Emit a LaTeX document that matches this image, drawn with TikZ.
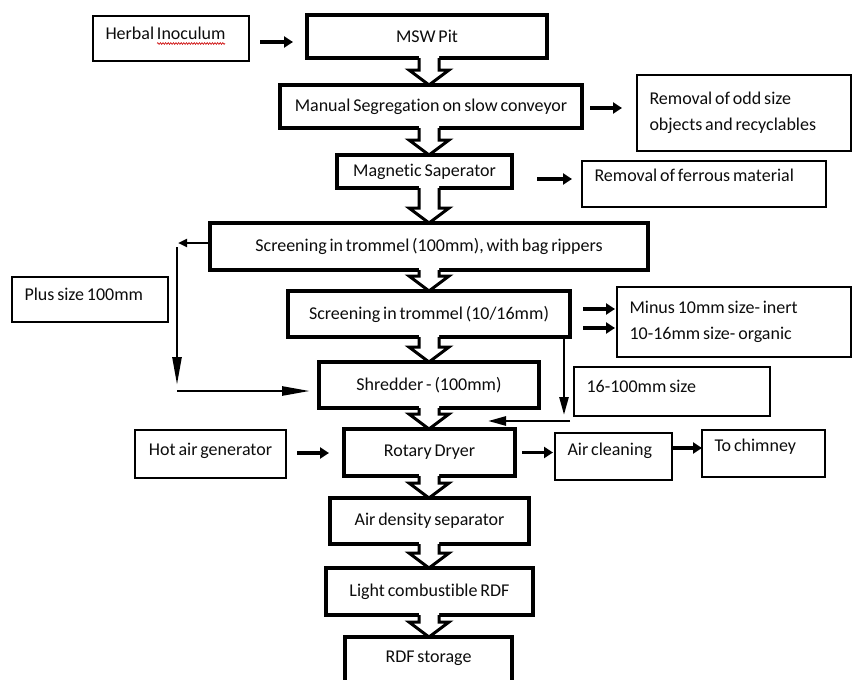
\documentclass[tikz,border=0pt]{standalone}
\usepackage{fontspec}
\setmainfont{Carlito}[Ligatures=NoCommon, WordSpace=0.7]
\usetikzlibrary{arrows.meta,decorations.pathmorphing}
\newcommand{\blockarr}[2]{%
  \path (#1.south -| ax) coordinate (bt) (#2.north -| ax) coordinate (bb);
  \fill[white] ([xshift=-10pt,yshift=2pt]bt) -- ([xshift=-10pt,yshift=15pt]bb) -- ([xshift=-20pt,yshift=15pt]bb) -- (bb) -- ([xshift=20pt,yshift=15pt]bb) -- ([xshift=10pt,yshift=15pt]bb) -- ([xshift=10pt,yshift=2pt]bt) -- cycle;
  \draw[barrow] ([xshift=-10pt]bt) -- ([xshift=-10pt,yshift=15pt]bb) -- ([xshift=-20pt,yshift=15pt]bb) -- (bb) -- ([xshift=20pt,yshift=15pt]bb) -- ([xshift=10pt,yshift=15pt]bb) -- ([xshift=10pt]bt);
}
\begin{document}
\begin{tikzpicture}[x=1pt,y=-1pt,
  txt/.style={text=black!95, font=\fontsize{18}{26}\selectfont},
  mainbox/.style={txt, draw=black, line width=3.5pt, fill=white, outer sep=0pt, inner sep=0pt, align=center},
  sidebox/.style={txt, draw=black, line width=1.2pt, outer sep=0pt, inner xsep=12.5pt, inner ysep=0pt, align=flush left},
  oneline/.style={text height=12pt, text depth=10pt},
  fat/.style={line width=3.5pt, -{Triangle[length=9pt,width=11pt]}},
  longarr/.style={line width=2.6pt, -{Triangle[length=28pt,width=9pt]}},
  medarr/.style={line width=2.6pt, -{Triangle[length=18pt,width=9pt]}},
  smallarr/.style={line width=2.8pt, -{Triangle[length=9pt,width=8pt]}},
  barrow/.style={line width=3pt, line join=miter}
]
\useasboundingbox (0,0) rectangle (852,680);
\clip (0,0) rectangle (852,680);
\fill[white] (0,0) rectangle (852,680);
\coordinate (ax) at (429,0);

% main column
\node[mainbox, minimum width=240pt, minimum height=43pt] (msw) at (427,36.5) {MSW Pit};
\node[mainbox, minimum width=302pt, minimum height=43pt] (manual) at (431,106.5) {Manual Segregation on slow conveyor};
\node[mainbox, minimum width=175pt, minimum height=33pt] (mag) at (424.5,171.5) {Magnetic Saperator};
\node[mainbox, minimum width=438pt, minimum height=47pt] (scr1) at (429,246.5) {Screening in trommel (100mm), with bag rippers};
\node[mainbox, minimum width=282pt, minimum height=46pt] (scr2) at (429,314) {Screening in trommel (10/16mm)};
\node[mainbox, minimum width=220pt, minimum height=46pt] (shred) at (429,385) {Shredder - (100mm)};
\node[mainbox, minimum width=171pt, minimum height=47pt] (rotary) at (429.5,452.5) {Rotary Dryer};
\node[mainbox, minimum width=199pt, minimum height=46pt] (airden) at (429.5,521) {Air density separator};
\node[mainbox, minimum width=207pt, minimum height=47pt] (light) at (429.5,591.5) {Light combustible RDF};
\node[mainbox, minimum width=167pt, minimum height=48pt, text height=12pt, text depth=10pt] (rdf) at (428.5,661) {RDF storage};

% side boxes
\node[sidebox, oneline, minimum height=45pt, text width=131pt] (herbal) at (171,38.5) {\mbox{Herbal Inoculum}};
\node[sidebox, minimum height=76pt, text width=189pt] (odd) at (744,113) {\mbox{Removal of odd size}\\\mbox{objects and recyclables}};
\node[sidebox, text height=12pt, text depth=18pt, minimum height=46pt, text width=219pt] (ferrous) at (704,184) {\mbox{Removal of ferrous material}};
\node[sidebox, oneline, minimum height=45pt, text width=131pt] (plus) at (90,299.5) {\mbox{Plus size 100mm}};
\node[sidebox, minimum height=70pt, text width=209pt] (minus) at (734,322) {\mbox{Minus 10mm size- inert}\\\mbox{10-16mm size- organic}};
\node[sidebox, oneline, minimum height=49pt, text width=171pt] (s16) at (672,391.5) {\mbox{16-100mm size}};
\node[sidebox, oneline, minimum height=48pt, text width=126pt, align=flush center] (hot) at (210.5,454) {\mbox{Hot air generator}};
\node[sidebox, text height=12pt, text depth=14pt, minimum height=47pt, text width=92pt] (aircl) at (613.5,456.5) {\mbox{Air cleaning}};
\node[sidebox, text height=12pt, text depth=16pt, minimum height=47pt, text width=98pt] (chim) at (763.5,453.5) {\mbox{To chimney}};

% spell-check underline
\draw[red!80!black, line width=0.6pt, decorate, decoration={snake, amplitude=0.9pt, segment length=2.6pt}] ([xshift=-14pt,yshift=-5pt]herbal.center) -- ++(68,0);

% block arrows
\blockarr{msw}{manual}
\blockarr{manual}{mag}
\blockarr{mag}{scr1}
\blockarr{scr1}{scr2}
\blockarr{scr2}{shred}
\blockarr{shred}{rotary}
\blockarr{rotary}{airden}
\blockarr{airden}{light}
\blockarr{light}{rdf}

% side arrows
\draw[fat, shorten >=14pt] ([xshift=11pt,yshift=-3.5pt]herbal.east) -- ([yshift=-3.5pt]herbal.east -| msw.west);
\draw[fat, shorten >=15pt] ([xshift=8pt,yshift=-1.5pt]manual.east) -- ([yshift=-1.5pt]manual.east -| odd.west);
\draw[fat, shorten >=10pt] ([xshift=25pt,yshift=-7.5pt]mag.east) -- ([yshift=-7.5pt]mag.east -| ferrous.west);
\draw[fat, shorten >=2pt] ([xshift=13pt,yshift=5pt]scr2.east) -- ([yshift=5pt]scr2.east -| minus.west);
\draw[fat, shorten >=2pt] ([xshift=13pt,yshift=-14pt]scr2.east) -- ([yshift=-14pt]scr2.east -| minus.west);
\draw[fat, shorten >=15pt] ([xshift=11pt,yshift=1pt]hot.east) -- ([yshift=1pt]hot.east -| rotary.west);
\draw[fat, shorten >=2pt] ([xshift=7pt]rotary.east) -- (rotary.east -| aircl.west);
\draw[fat] ([xshift=1pt,yshift=8.5pt]aircl.east) -- ([yshift=8.5pt]aircl.east -| chim.west);

% oversize loop (left)
\coordinate (lt) at (177,247);
\coordinate (lb) at (177,391);
\draw[smallarr] ([yshift=3.5pt]scr1.west) -- ++(-32,0);
\draw[longarr, shorten >=6pt] (lt) -- (lb);
\draw[longarr, shorten >=9pt] (lb) -- (lb -| shred.west);

% 16-100mm loop (right)
\coordinate (rt) at ([xshift=135pt]scr2.south);
\coordinate (rb) at (570,421);
\draw[medarr, shorten >=6pt] (rt) -- (rt |- rb);
\draw[medarr] (rb) -- ++(-82,0);
\end{tikzpicture}
\end{document}
